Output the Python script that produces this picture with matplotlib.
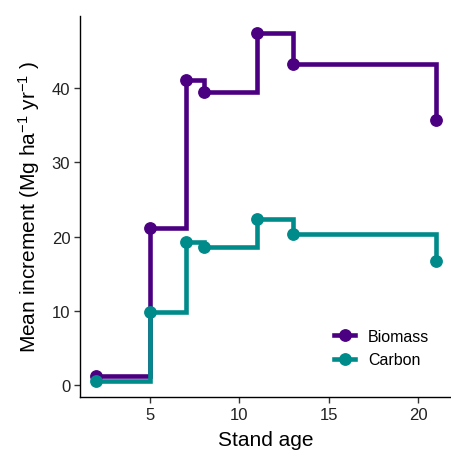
import matplotlib
matplotlib.use("Agg")
import matplotlib.pyplot as plt

plt.rcParams['font.family'] = ['Liberation Sans', 'DejaVu Sans']
plt.rcParams['mathtext.fontset'] = 'custom'
plt.rcParams['mathtext.rm'] = 'Liberation Sans'
plt.rcParams['mathtext.it'] = 'Liberation Sans'

age = [2, 5, 7, 8, 11, 13, 21]
biomass = [1.2, 21.2, 41.1, 39.4, 47.4, 43.2, 35.7]
carbon = [0.5, 9.9, 19.3, 18.6, 22.3, 20.3, 16.7]
series = [("Biomass", biomass, "#4B0082"), ("Carbon", carbon, "#008B8B")]

fig = plt.figure(figsize=(4.51, 4.52), dpi=100)
ax = fig.add_axes([80/451, 1-398/452, 1-80/451, (398-17)/452])

for name, vals, col in series:
    ax.plot(age, vals, drawstyle='steps-post', color=col, lw=3.3,
            marker='o', ms=8.2, label=name, solid_joinstyle='miter')

ax.set_xlim(1.09, 21.82)
ax.set_ylim(-1.6, 49.7)
ax.set_xticks([5, 10, 15, 20])
ax.set_yticks([0, 10, 20, 30, 40])
for s in ['top', 'right']:
    ax.spines[s].set_visible(False)
for s in ['left', 'bottom']:
    ax.spines[s].set_linewidth(1.0)
    ax.spines[s].set_color('black')
ax.tick_params(axis='both', direction='out', length=4, width=1, labelsize=12,
               colors='#333333', labelcolor='#222222', pad=3)
ax.set_xlabel("Stand age", fontsize=15, labelpad=6)
ax.set_ylabel(r"Mean increment (Mg ha$^{-1}$ yr$^{-1}$ )", fontsize=15, labelpad=7)

leg = ax.legend(loc='lower right', bbox_to_anchor=(0.98, 0.04), frameon=False,
                fontsize=11.5, handlelength=1.3, labelspacing=0.55, handletextpad=0.8)

fig.savefig("out.png", dpi=100)
